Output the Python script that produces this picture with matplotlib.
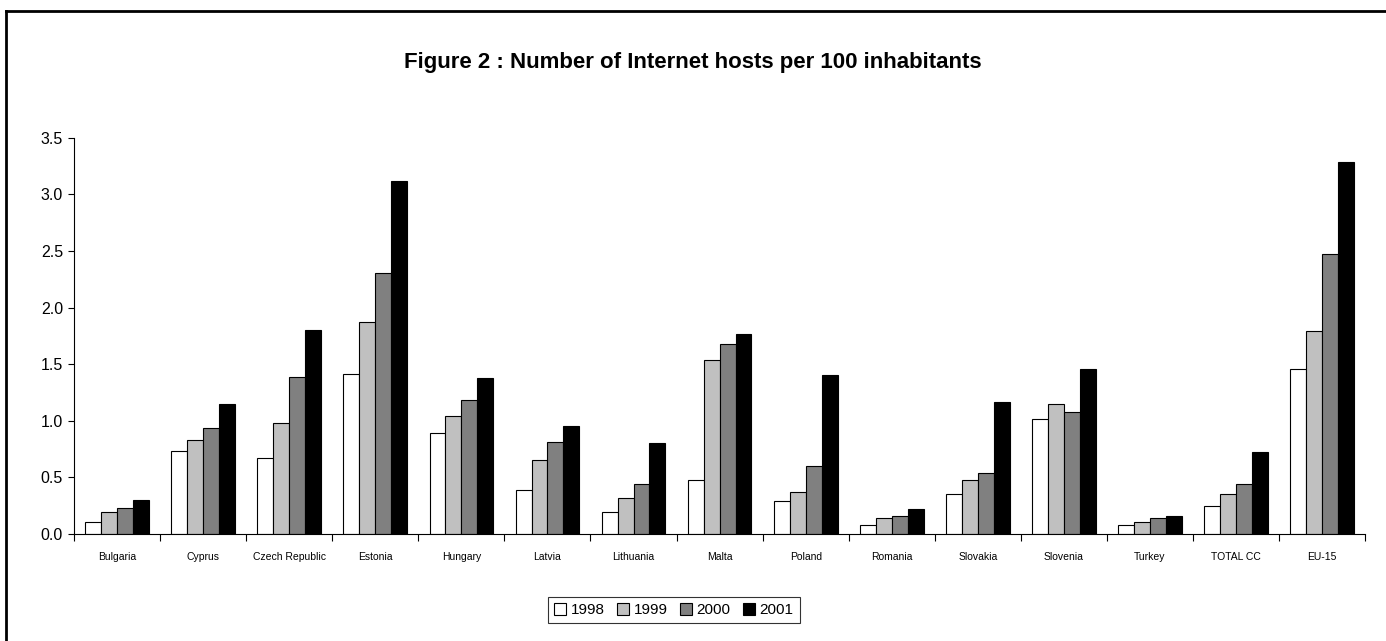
import numpy as np
import matplotlib
matplotlib.use('Agg')
import matplotlib.pyplot as plt
from matplotlib.lines import Line2D

plt.rcParams['font.family'] = ['Liberation Sans', 'DejaVu Sans']

countries = ['Bulgaria', 'Cyprus', 'Czech Republic', 'Estonia', 'Hungary', 'Latvia',
             'Lithuania', 'Malta', 'Poland', 'Romania', 'Slovakia', 'Slovenia',
             'Turkey', 'TOTAL CC', 'EU-15']
years = ['1998', '1999', '2000', '2001']

v1998 = [0.11, 0.73, 0.67, 1.41, 0.89, 0.39, 0.19, 0.48, 0.29, 0.08, 0.35, 1.02, 0.08, 0.25, 1.46]
v1999 = [0.19, 0.83, 0.98, 1.87, 1.04, 0.65, 0.32, 1.54, 0.37, 0.14, 0.48, 1.15, 0.11, 0.35, 1.79]
v2000 = [0.23, 0.94, 1.39, 2.31, 1.18, 0.81, 0.44, 1.68, 0.60, 0.16, 0.54, 1.08, 0.14, 0.44, 2.47]
v2001 = [0.30, 1.15, 1.80, 3.12, 1.38, 0.95, 0.80, 1.77, 1.40, 0.22, 1.17, 1.46, 0.16, 0.72, 3.29]

series = [v1998, v1999, v2000, v2001]
colors = ['white', '#C0C0C0', '#808080', 'black']

fig = plt.figure(figsize=(13.86, 6.41), dpi=100)
ax = fig.add_axes([0.0534, 0.167, 0.9316, 0.618])

x = np.arange(len(countries))
w = 0.185
for i, (vals, c) in enumerate(zip(series, colors)):
    ax.bar(x + (i - 1.5) * w, vals, width=w, color=c, edgecolor='black',
           linewidth=0.8, label=years[i])

ax.set_xlim(-0.5, len(countries) - 0.5)
ax.set_ylim(0, 3.5)
ax.set_yticks(np.arange(0, 3.51, 0.5))
ax.set_yticklabels(['%.1f' % t for t in np.arange(0, 3.51, 0.5)], fontsize=11.5)

# ticks between categories, labels at centres
ax.set_xticks(np.arange(-0.5, len(countries), 1.0))
ax.set_xticklabels([])
ax.set_xticks(x, minor=True)
ax.set_xticklabels(countries, minor=True, fontsize=7.5)
ax.tick_params(axis='x', which='minor', length=0, pad=13)
ax.tick_params(axis='x', which='major', length=5, width=0.8, direction='out')
ax.tick_params(axis='y', length=4, width=0.8, direction='out', pad=4)

ax.spines['top'].set_visible(False)
ax.spines['right'].set_visible(False)
ax.spines['left'].set_linewidth(0.8)
ax.spines['bottom'].set_linewidth(0.8)

fig.text(0.5, 0.903, 'Figure 2 : Number of Internet hosts per 100 inhabitants',
         ha='center', va='center', fontsize=16, fontweight='bold')

leg = fig.legend(loc='center', bbox_to_anchor=(0.486, 0.048), ncol=4, fontsize=11,
                 frameon=True, fancybox=False, handlelength=0.8, handleheight=0.8,
                 handletextpad=0.3, columnspacing=0.8, borderpad=0.4)
leg.get_frame().set_edgecolor('black')
leg.get_frame().set_linewidth(0.8)

# outer frame (cut by the image edges at right and bottom)
fig.add_artist(Line2D([6 / 1386, 6 / 1386], [0, 1 - 11 / 641], transform=fig.transFigure,
                      color='black', linewidth=2))
fig.add_artist(Line2D([6 / 1386, 1], [1 - 11 / 641, 1 - 11 / 641], transform=fig.transFigure,
                      color='black', linewidth=2))

fig.savefig('out.png', dpi=100)
